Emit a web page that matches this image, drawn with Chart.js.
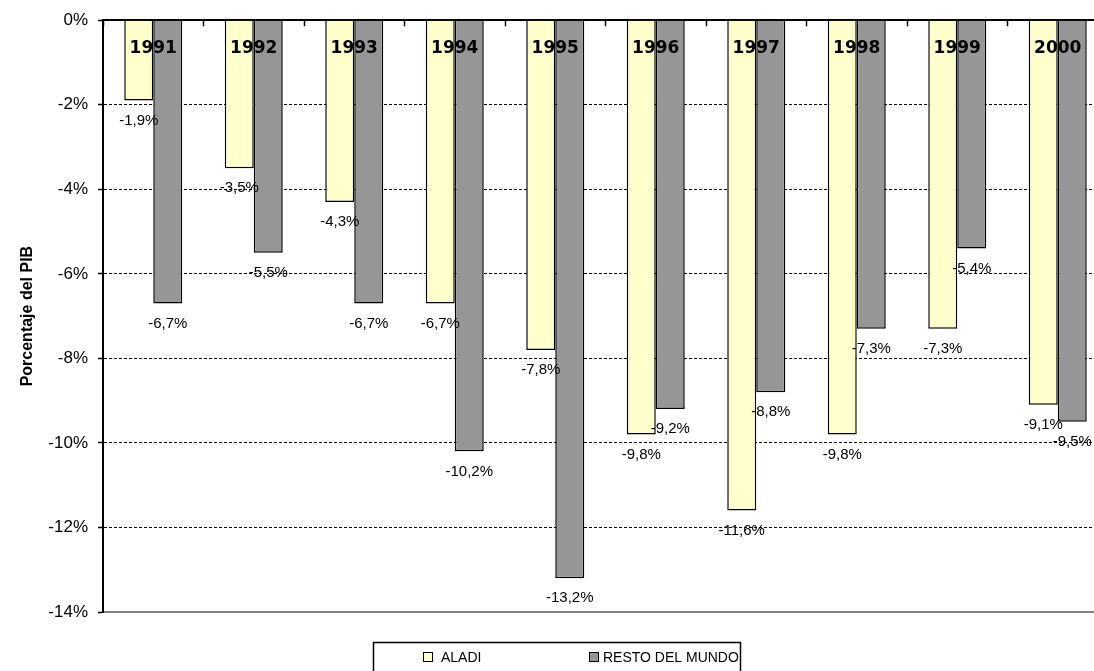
<!DOCTYPE html>
<html>
<head>
<meta charset="utf-8">
<script src="https://cdn.jsdelivr.net/npm/chart.js@4/dist/chart.umd.min.js"></script>
<style>
  html, body { margin: 0; padding: 0; background: #fff; overflow: hidden; }
  #wrap { position: absolute; left: 0; top: 0; width: 1108px; height: 671px; }
</style>
</head>
<body>
<div id="wrap"><canvas id="chart" width="1108" height="671"></canvas></div>
<script>
// Datos (porcentaje del PIB)
const years = ['1991', '1992', '1993', '1994', '1995', '1996', '1997', '1998', '1999', '2000'];
const aladi = [-1.9, -3.5, -4.3, -6.7, -7.8, -9.8, -11.6, -9.8, -7.3, -9.1];
const restoMundo = [-6.7, -5.5, -6.7, -10.2, -13.2, -9.2, -8.8, -7.3, -5.4, -9.5];
const seriesNames = ['ALADI', 'RESTO DEL MUNDO'];
const seriesColors = ['#FFFFCC', '#969696'];

const FONT = "'Liberation Sans', Arial, sans-serif";

function fmt(v) {
    return v.toFixed(1).replace('.', ',') + '%';
}

// etiquetas de valor debajo de cada barra
const valueLabels = {
    id: 'valueLabels',
    afterDatasetsDraw(chart) {
        const ctx = chart.ctx;
        ctx.save();
        ctx.font = '15px ' + FONT;
        ctx.fillStyle = '#000';
        ctx.textAlign = 'center';
        ctx.textBaseline = 'middle';
        chart.data.datasets.forEach((ds, di) => {
            chart.getDatasetMeta(di).data.forEach((bar, i) => {
                ctx.fillText(fmt(ds.data[i]), bar.x, bar.y + 20);
            });
        });
        ctx.restore();
    }
};

// años dentro del área, arriba
const yearLabels = {
    id: 'yearLabels',
    afterDatasetsDraw(chart) {
        const ctx = chart.ctx;
        const xs = chart.scales.x;
        ctx.save();
        ctx.font = 'bold 17px "DejaVu Sans", Verdana, sans-serif';
        ctx.fillStyle = '#000';
        ctx.textAlign = 'center';
        ctx.textBaseline = 'middle';
        xs.ticks.forEach((t, i) => {
            ctx.fillText(chart.data.labels[i], xs.getPixelForTick(i), chart.chartArea.top + 28);
        });
        ctx.restore();
    }
};

// leyenda con recuadro
const boxLegend = {
    id: 'boxLegend',
    afterDraw(chart) {
        const ctx = chart.ctx;
        const left = Math.round(chart.width / 2) - 181;
        const top = 642;
        ctx.save();
        ctx.strokeStyle = '#000';
        ctx.lineWidth = 1.5;
        ctx.strokeRect(left + 0.5, top + 0.5, 367, 40);
        const offs = [[50, 68], [216, 230]];
        ctx.font = '14px ' + FONT;
        ctx.textBaseline = 'middle';
        chart.data.datasets.forEach((ds, i) => {
            ctx.fillStyle = ds.backgroundColor;
            ctx.fillRect(left + offs[i][0], top + 10, 10, 10);
            ctx.lineWidth = 1;
            ctx.strokeRect(left + offs[i][0] + 0.5, top + 10.5, 9, 9);
            ctx.fillStyle = '#000';
            ctx.fillText(ds.label, left + offs[i][1], top + 16);
        });
        ctx.restore();
    }
};

const chart = new Chart(document.getElementById('chart'), {
    type: 'bar',
    data: {
        labels: years,
        datasets: [
            { label: seriesNames[0], data: aladi, backgroundColor: seriesColors[0], borderColor: '#000', borderWidth: 1.5 },
            { label: seriesNames[1], data: restoMundo, backgroundColor: seriesColors[1], borderColor: '#000', borderWidth: 1.5 }
        ]
    },
    options: {
        responsive: false,
        animation: false,
        devicePixelRatio: 1,
        layout: { padding: { top: 19, bottom: 59, left: 0, right: 0 } },
        datasets: { bar: { categoryPercentage: 0.577, barPercentage: 1.0 } },
        plugins: {
            legend: { display: false },
            tooltip: { enabled: false }
        },
        scales: {
            x: {
                position: 'top',
                ticks: { display: false },
                grid: { drawOnChartArea: false, drawTicks: true, tickLength: -6, tickColor: '#000', tickWidth: 1.5, offset: true },
                border: { color: '#000', width: 2 },
                afterFit: s => { s.height = 0; }
            },
            x2: {
                type: 'category',
                labels: years,
                position: 'bottom',
                ticks: { display: false },
                grid: { display: false },
                border: { color: '#808080', width: 2 },
                afterFit: s => { s.height = 0; }
            },
            y: {
                min: -14,
                max: 0,
                ticks: {
                    stepSize: 2,
                    padding: 10,
                    color: '#000',
                    font: { family: FONT, size: 17 },
                    callback: v => v + '%'
                },
                grid: {
                    color: c => (c.tick && (c.tick.value === 0 || c.tick.value === -14)) ? 'rgba(0,0,0,0)' : '#000',
                    lineWidth: 1,
                    tickColor: '#000',
                    tickLength: 5,
                    tickWidth: 1.5
                },
                border: { color: '#000', width: 2, dash: [3, 2] },
                title: {
                    display: true,
                    text: 'Porcentaje del PIB',
                    color: '#000',
                    font: { family: FONT, size: 16, weight: 'bold' },
                    padding: { top: 18, bottom: 0 }
                },
                afterFit: s => { s.width = 103; }
            }
        }
    },
    plugins: [valueLabels, yearLabels, boxLegend]
});
</script>
</body>
</html>
